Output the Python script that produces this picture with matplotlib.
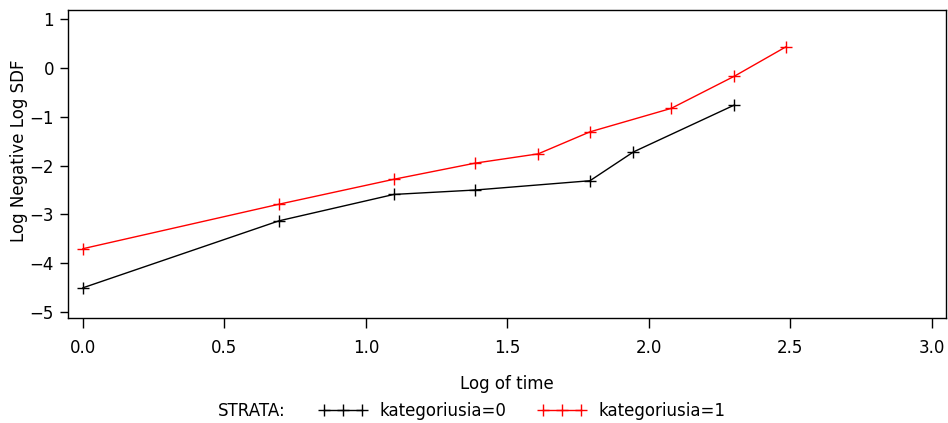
import matplotlib
matplotlib.use("Agg")
import matplotlib.pyplot as plt
import numpy as np
from matplotlib import font_manager

# Data
log_time_0 = [0.0, 0.693, 1.099, 1.386, 1.792, 1.946, 2.303]
lnls_0 = [-4.50, -3.13, -2.59, -2.50, -2.31, -1.72, -0.76]
log_time_1 = [0.0, 0.693, 1.099, 1.386, 1.609, 1.792, 2.079, 2.303, 2.485]
lnls_1 = [-3.70, -2.79, -2.28, -1.95, -1.76, -1.31, -0.83, -0.17, 0.43]
x_ticks = [0.0, 0.5, 1.0, 1.5, 2.0, 2.5, 3.0]
x_tick_labels = ["0.0", "0.5", "1.0", "1.5", "2.0", "2.5", "3.0"]
y_ticks = [-5, -4, -3, -2, -1, 0, 1]
y_tick_labels = ["\u22125", "\u22124", "\u22123", "\u22122", "\u22121", "0", "1"]
strata_labels = ["kategoriusia=0", "kategoriusia=1"]
colors = ["black", "red"]

names = {f.name for f in font_manager.fontManager.ttflist}
fam = ["Liberation Sans Narrow", "DejaVu Sans"] if "Liberation Sans Narrow" in names else ["DejaVu Sans"]
plt.rcParams['font.family'] = fam

fig = plt.figure(figsize=(9.48, 4.23), dpi=100)
ax = fig.add_axes([0.0717, 0.248, 0.926, 0.728])

ax.plot(log_time_0, lnls_0, color=colors[0], marker='+', markersize=9, lw=1.0,
        markeredgewidth=1.0, label=strata_labels[0])
ax.plot(log_time_1, lnls_1, color=colors[1], marker='+', markersize=9, lw=1.0,
        markeredgewidth=1.0, label=strata_labels[1])

ax.set_xlim(-0.053, 3.05)
ax.set_ylim(-5.12, 1.18)
ax.set_xticks(x_ticks)
ax.set_xticklabels(x_tick_labels)
ax.set_yticks(y_ticks)
ax.set_yticklabels(y_tick_labels)
ax.tick_params(direction='out', length=7, width=1, labelsize=12, pad=8, axis='x')
ax.tick_params(direction='out', length=6, width=1, labelsize=12, pad=4, axis='y')
for s in ax.spines.values():
    s.set_linewidth(1.0)

ax.set_xlabel("Log of time", fontsize=12)
ax.set_ylabel("Log Negative Log SDF", fontsize=12)
ax.xaxis.set_label_coords(0.5, -0.185)
ax.yaxis.set_label_coords(-0.045, 0.545)

fig.text(0.23, 0.028, "STRATA:", fontsize=12, ha='left', va='center')
leg = fig.legend(handles=ax.get_lines(), labels=strata_labels, ncol=2, frameon=False,
                 numpoints=3, fontsize=12, loc='center left', bbox_to_anchor=(0.329, 0.028),
                 handlelength=2.9, columnspacing=1.9, handletextpad=0.75, borderaxespad=0)

fig.savefig("out.png", dpi=100)
